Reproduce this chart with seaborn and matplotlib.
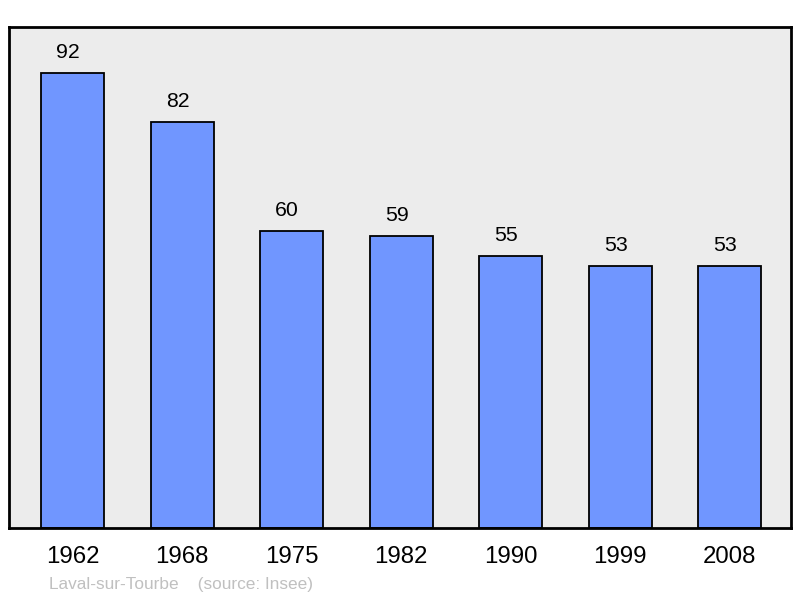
import matplotlib
matplotlib.use("Agg")
import matplotlib.pyplot as plt
import seaborn as sns
import pandas as pd

years = ["1962", "1968", "1975", "1982", "1990", "1999", "2008"]
population = [92, 82, 60, 59, 55, 53, 53]
title_text = "Laval-sur-Tourbe"
source_text = "(source: Insee)"

sns.set_theme(style="white")
plt.rcParams['font.family'] = ['Liberation Sans', 'DejaVu Sans']

df = pd.DataFrame({"year": years, "pop": population})

fig = plt.figure(figsize=(8, 5.98), dpi=100)
ax = fig.add_axes([9/800, 70/598, 782/800, 501/598])
ax.set_facecolor("#ececec")

sns.barplot(data=df, x="year", y="pop", color="#7096ff", saturation=1,
            width=0.575, edgecolor="black", linewidth=1.3, ax=ax, zorder=2)

for i, v in enumerate(population):
    ax.text(i - 0.04, v + 2.3, str(v), ha="center", va="bottom", fontsize=15.3, color="black")

ax.set_xlim(-0.58, 6.56)
ax.set_ylim(0, 101.3)
ax.set_yticks([])
ax.set_xlabel("")
ax.set_ylabel("")
ax.tick_params(axis="x", length=0, labelsize=17.3, pad=13, colors="black")
for s in ax.spines.values():
    s.set_color("black")
    s.set_linewidth(2)

fig.text(49/800, 1 - 584/598, title_text + "    " + source_text, fontsize=12.4,
         color="#c0c0c0", ha="left", va="center")

fig.savefig("out.png", dpi=100)
